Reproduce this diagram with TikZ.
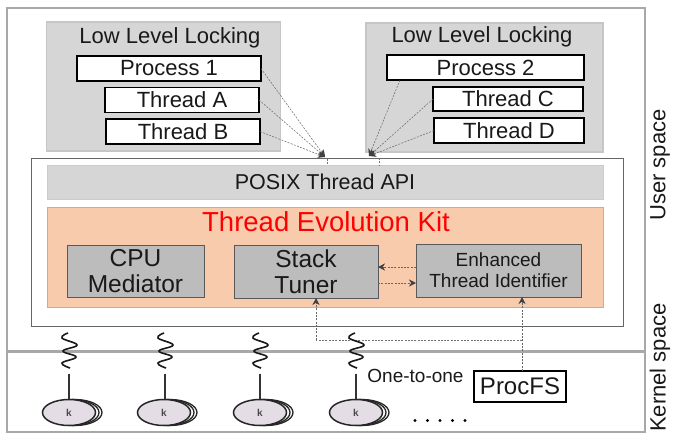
\documentclass[tikz,border=0pt]{standalone}
\usepackage{fontspec}
\setmainfont{Liberation Sans}
\usetikzlibrary{arrows.meta,shapes.geometric}
\definecolor{panel}{HTML}{D6D6D6}
\definecolor{panelb}{HTML}{C6C6C6}
\definecolor{kit}{HTML}{F8CBAD}
\definecolor{mod}{HTML}{BCBCBC}
\definecolor{frame}{HTML}{A8A8A8}
\definecolor{disc}{HTML}{E4DDE6}
\tikzset{
  x=1pt,y=-1pt,
  box/.style={inner sep=0pt,outer sep=0pt,align=center,text=black!90},
  panelbox/.style={box,fill=panel,draw=panelb,line width=1.4pt},
  procbox/.style={box,fill=white,draw=black,line width=1.2pt,font=\fontsize{22}{24}\selectfont},
  apibox/.style={box,fill=panel,draw=panelb!90,line width=.4pt,font=\fontsize{21.5}{24}\selectfont},
  modbox/.style={box,fill=mod,draw=black!65,line width=.8pt,font=\fontsize{24.5}{26}\selectfont},
  smallmod/.style={box,fill=mod,draw=black!65,line width=.8pt,font=\fontsize{19}{21}\selectfont},
  link/.style={draw=black!60,line width=.5pt,dash pattern=on 2pt off 1.3pt,-{Stealth[length=7pt,width=7pt,color=black!75]}},
  plain/.style={draw=black!55,line width=.5pt,dash pattern=on 2pt off 1.3pt},
  label/.style={inner sep=0pt,outer sep=0pt,text=black!90},
  stem/.style={draw=black!80,line width=2.4pt},
  spring/.style={draw=black!90,line width=1.6pt},
}
\newcommand{\thr}[3]{%
  \draw[spring] plot[smooth,tension=.7] coordinates {(#1,333) (#1-6,338) (#1+9,345) (#1-5,351) (#1+8,357) (#1-6,363) (#1+2,368)};
  \node[inner sep=0pt] (#3s) at (#1+1,373) {};
  \draw[fill=white,draw=black!85,line width=1.3pt] (#2+6,412.5) ellipse [x radius=27,y radius=13];
  \draw[fill=white,draw=black!85,line width=1.3pt] (#2+3,412.5) ellipse [x radius=27,y radius=13];
  \node[draw=black!85,line width=1.5pt,fill=disc,ellipse,inner sep=0pt,minimum width=53pt,minimum height=26pt,font=\fontsize{10}{10}\bfseries\selectfont,text=black!70] (#3) at (#2,412.5) {k};
  \draw[stem] (#3s) -- (#3s|-#3.north);
}
\begin{document}
\begin{tikzpicture}
\useasboundingbox (0,0) rectangle (688,442);
\fill[white] (0,0) rectangle (688,442);
\node[box,draw=frame,line width=1.8pt,minimum width=638pt,minimum height=424pt] (outer) at (326,220) {};
\draw[draw=frame,line width=3pt] (outer.west|-0,351) coordinate (kl) -- (outer.east|-0,351) coordinate (kr);
% panels
\node[panelbox,minimum width=234pt,minimum height=129pt] (pl) at (163.5,86.5) {};
\node[panelbox,minimum width=237pt,minimum height=129pt] (pr) at (484.5,87.5) {};
\node[label,font=\fontsize{22}{24}\selectfont] (ll) at (170,38) {Low Level Locking};
\node[label,font=\fontsize{22}{24}\selectfont] (lr) at (482,37) {Low Level Locking};
\node[procbox,minimum width=184pt,minimum height=25pt] (p1) at (169,68.5) {Process 1};
\node[procbox,minimum width=154pt,minimum height=25pt] (ta) at (182,100) {Thread A};
\node[procbox,minimum width=154pt,minimum height=25pt] (tb) at (183,131.5) {Thread B};
\node[procbox,minimum width=197pt,minimum height=25pt] (p2) at (485.5,67.5) {Process 2};
\node[procbox,minimum width=150pt,minimum height=24pt] (tc) at (508,99) {Thread C};
\node[procbox,minimum width=150pt,minimum height=25pt] (td) at (509,130.5) {Thread D};
% main box
\node[box,draw=black!60,line width=.7pt,minimum width=592pt,minimum height=168pt] (main) at (327,242) {};
\node[apibox,minimum width=556pt,minimum height=34pt] (api) at (325,182) {POSIX Thread API};
\node[box,fill=kit,draw=black!30,line width=.3pt,minimum width=556pt,minimum height=100pt] (kitb) at (325,257) {};
\node[label,text=red,font=\fontsize{27.5}{30}\selectfont] (kt) at (326,222) {Thread Evolution Kit};
\node[modbox,minimum width=137pt,minimum height=52pt] (cpu) at (135.5,271) {CPU\\Mediator};
\node[modbox,minimum width=144pt,minimum height=53pt] (st) at (306,271.5) {Stack\\Tuner};
\node[smallmod,minimum width=165pt,minimum height=53pt] (eti) at (498.5,270.5) {Enhanced\\Thread Identifier};
\node[box,fill=white,draw=black,line width=1.1pt,minimum width=92pt,minimum height=31pt,font=\fontsize{24}{26}\selectfont] (pf) at (520,386.5) {ProcFS};
% locks
\coordinate (al) at (325,157);
\coordinate (ar) at (369,156);
\draw[link] (p1.east) -- (al);
\draw[link] (ta.east) -- (al);
\draw[link] (tb.east) -- (al);
\draw[link] ([xshift=13pt]p2.south west) -- (ar);
\draw[link] (tc.west) -- (ar);
\draw[link] (td.west) -- (ar);
\draw[plain] (al) ++(2,2) -- ++(0,5);
\draw[plain] (ar) ++(10,2) -- ++(0,8);
% modules
\draw[link] (eti.west|-0,267) -- (st.east|-0,267);
\draw[link] (st.east|-0,283) -- (eti.west|-0,283);
\coordinate (jn) at (316,340);
\draw[link] (pf.north-|522,0) -- (eti.south-|522,0);
\draw[plain] (522,340) -- (jn);
\draw[link] (jn) -- (jn|-st.south);
% threads
\thr{68}{69}{k1}
\thr{164}{164}{k2}
\thr{259}{260}{k3}
\thr{355}{356}{k4}
\node[label,font=\fontsize{19}{21}\selectfont] (oto) at (415.5,375.5) {One-to-one};
\foreach \i/\x in {1/415,2/427.5,3/440,4/452.5,5/465}{\fill[black] (\x,420.5) circle [radius=1.6];}
\node[label,rotate=90,font=\fontsize{22}{24}\selectfont] (us) at (660,165) {User space};
\node[label,rotate=90,font=\fontsize{22}{24}\selectfont] (ks) at (660,367.5) {Kernel space};
\end{tikzpicture}
\end{document}
